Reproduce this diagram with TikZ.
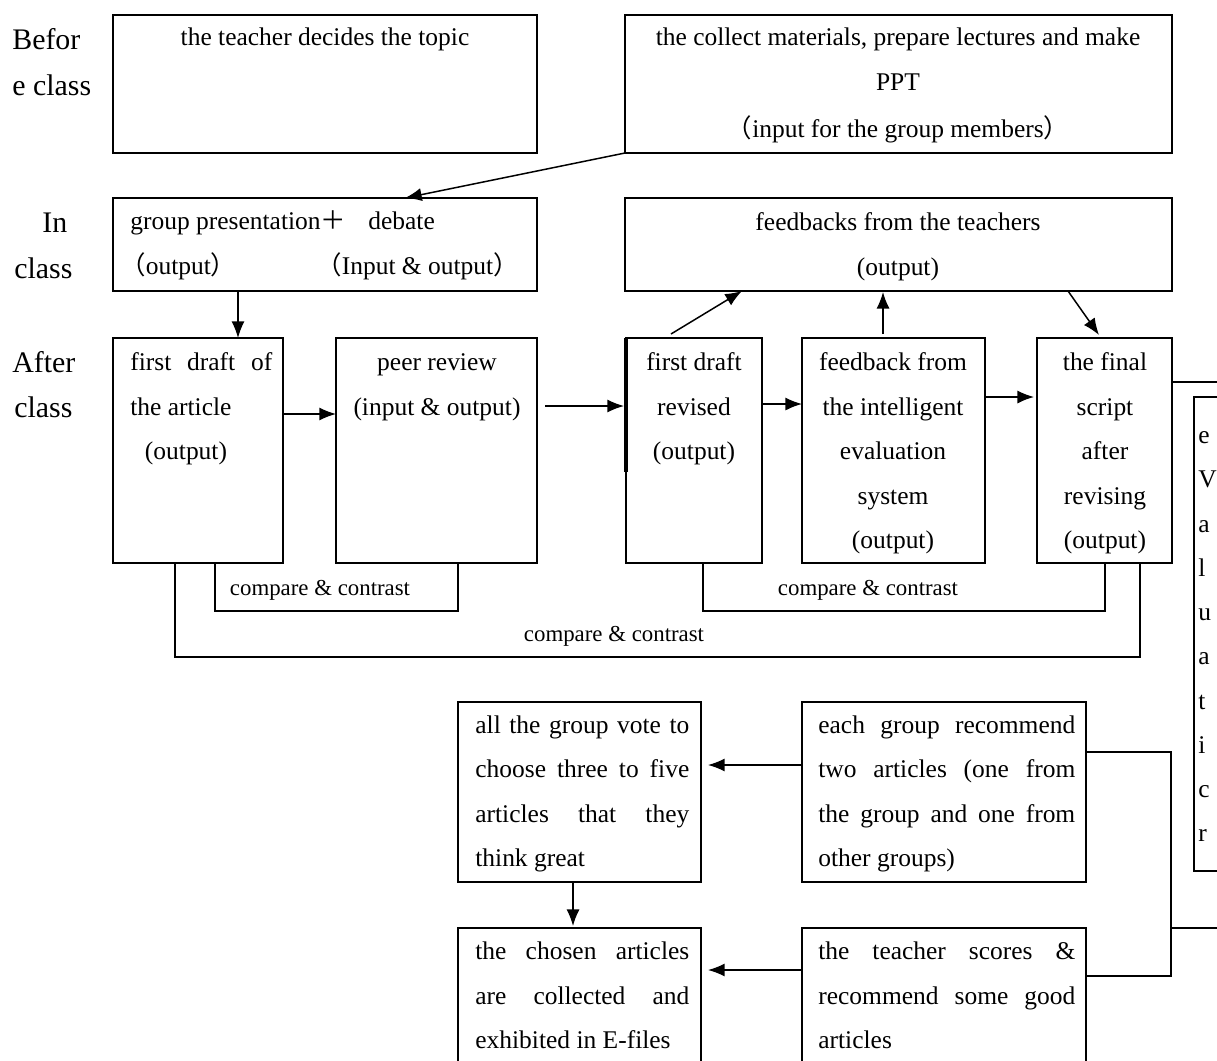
\documentclass[tikz,border=0pt]{standalone}
\usepackage{fontspec}
\setmainfont{Liberation Serif}
\newfontfamily\cjkfont{Noto Sans CJK SC}
\usetikzlibrary{arrows.meta,calc}
\newcommand\fwl{{\cjkfont （}}
\newcommand\fwr{{\cjkfont ）}}
\newcommand\fwplus{{\cjkfont ＋}}
\newcommand\mkbox[5]{\node[box, minimum width={(#4-#2)*0.02cm}, minimum height={(#5-#3)*0.02cm}] (#1) at ({(#2+#4)/2},{(#3+#5)/2}) {};}
\begin{document}
\begin{tikzpicture}[x=0.02cm,y=-0.02cm,
  box/.style={draw, line width=0.85pt, inner sep=0pt, outer sep=0pt, rectangle},
  txt/.style={inner sep=0pt, anchor=base, font=\fontsize{14.5}{17}\selectfont},
  txl/.style={txt, anchor=base west},
  side/.style={inner sep=0pt, anchor=base west, font=\fontsize{17}{20}\selectfont},
  cmp/.style={inner sep=0pt, anchor=base, font=\fontsize{13}{15}\selectfont},
  arr/.style={line width=0.85pt, -{Latex[length=9.5pt,width=7.5pt]}},
  conn/.style={line width=0.85pt},
]
\useasboundingbox (0,0) rectangle (1217,1061);
\fill[white] (0,0) rectangle (1217,1061);
\clip (0,0) rectangle (1217,1061);

% side labels
\node[side] (l1) at (12,50) {Befor};
\node[side] (l2) at (12,95) {e class};
\node[side] (l3) at (42,232) {In};
\node[side] (l4) at (14,278) {class};
\node[side] (l5) at (12,372) {After};
\node[side] (l6) at (14,417) {class};

% boxes
\mkbox{A}{113}{15}{537}{153}
\mkbox{B}{625}{15}{1172}{153}
\mkbox{C}{113}{198}{537}{291}
\mkbox{D}{625}{198}{1172}{291}
\mkbox{E}{113}{338}{283}{563}
\mkbox{F}{336}{338}{537}{563}
\mkbox{G}{626}{338}{762}{563}
\mkbox{H}{802}{338}{985}{563}
\mkbox{I}{1037}{338}{1172}{563}
\mkbox{R}{1194}{397}{1260}{871}
\mkbox{J}{458}{702}{701}{882}
\mkbox{K}{802}{702}{1086}{882}
\mkbox{L}{458}{928}{701}{1080}
\mkbox{M}{802}{928}{1086}{1080}
\draw[line width=2pt] (G.north west) -- ($(G.north west)+(0,134)$);

% texts top
\node[txt] (tA) at (325,46) {the teacher decides the topic};
\node[txt] (tB1) at (898,46) {the collect materials, prepare lectures and make};
\node[txt] (tB2) at (898,91) {PPT};
\node[txt] (tB3) at (898,137) {\fwl input for the group members\fwr};
\node[txl] (tC1) at (130,229) {group presentation\fwplus};
\node[txl] (tC2) at (368,229) {debate};
\node[txl] (tC3) at (120,274) {\fwl output\fwr};
\node[txl] (tC4) at (316,274) {\fwl Input \& output\fwr};
\node[txt] (tD1) at (898,230) {feedbacks from the teachers};
\node[txt] (tD2) at (898,275) {(output)};

% after class texts
\node[txl] (tE1) at (130,370) {\makebox[2.84cm][s]{first draft of}};
\node[txl] (tE2) at (130,415) {the article};
\node[txt] (tE3) at (186,459) {(output)};
\node[txt] (tF1) at (437,370) {peer review};
\node[txt] (tF2) at (437,415) {(input \& output)};
\node[txt] (tG1) at (694,370) {first draft};
\node[txt] (tG2) at (694,415) {revised};
\node[txt] (tG3) at (694,459) {(output)};
\node[txt] (tH1) at (893,370) {feedback from};
\node[txt] (tH2) at (893,415) {the intelligent};
\node[txt] (tH3) at (893,459) {evaluation};
\node[txt] (tH4) at (893,504) {system};
\node[txt] (tH5) at (893,548) {(output)};
\node[txt] (tI1) at (1105,370) {the final};
\node[txt] (tI2) at (1105,415) {script};
\node[txt] (tI3) at (1105,459) {after};
\node[txt] (tI4) at (1105,504) {revising};
\node[txt] (tI5) at (1105,548) {(output)};

% right cut box letters
\node[txl] (r1) at (1198,443) {e};
\node[txl] (r2) at (1198,487) {V};
\node[txl] (r3) at (1198,532) {a};
\node[txl] (r4) at (1198,576) {l};
\node[txl] (r5) at (1198,620) {u};
\node[txl] (r6) at (1198,664) {a};
\node[txl] (r7) at (1198,709) {t};
\node[txl] (r8) at (1198,753) {i};
\node[txl] (r9) at (1198,797) {c};
\node[txl] (r10) at (1198,841) {r};

% lower texts
\node[txl] (tJ1) at (475,733) {\makebox[4.28cm][s]{all the group vote to}};
\node[txl] (tJ2) at (475,777) {\makebox[4.28cm][s]{choose three to five}};
\node[txl] (tJ3) at (475,822) {\makebox[4.28cm][s]{articles that they}};
\node[txl] (tJ4) at (475,866) {think great};
\node[txl] (tK1) at (818,733) {\makebox[5.14cm][s]{each group recommend}};
\node[txl] (tK2) at (818,777) {\makebox[5.14cm][s]{two articles (one from}};
\node[txl] (tK3) at (818,822) {\makebox[5.14cm][s]{the group and one from}};
\node[txl] (tK4) at (818,866) {other groups)};
\node[txl] (tL1) at (475,959) {\makebox[4.28cm][s]{the chosen articles}};
\node[txl] (tL2) at (475,1004) {\makebox[4.28cm][s]{are collected and}};
\node[txl] (tL3) at (475,1048) {exhibited in E-files};
\node[txl] (tM1) at (818,959) {\makebox[5.14cm][s]{the teacher scores \&}};
\node[txl] (tM2) at (818,1004) {\makebox[5.14cm][s]{recommend some good}};
\node[txl] (tM3) at (818,1048) {articles};

% compare labels
\node[cmp] (c1) at (320,595) {compare \& contrast};
\node[cmp] (c2) at (868,595) {compare \& contrast};
\node[cmp] (c3) at (614,641) {compare \& contrast};

% arrows
\draw[arr] (B.south west) -- ($(C.north west)+(292,0)$);
\draw[arr] ($(C.south west)+(125,0)$) -- ($(E.north west)+(125,0)$);
\draw[arr] ($(E.north east)+(0,76)$) -- ($(F.north west)+(0,76)$);
\draw[arr] ($(F.north east)+(8,68)$) -- ($(G.north west)+(-2,68)$);
\draw[arr] ($(G.north east)+(0,66)$) -- ($(H.north west)+(0,66)$);
\draw[arr] ($(H.north east)+(0,59)$) -- ($(I.north west)+(-3,59)$);
\draw[arr] ($(G.north west)+(45,-4)$) -- ($(D.south west)+(117,0)$);
\draw[arr] ($(H.north west)+(81,-4)$) -- ($(H.north west)+(81,-46)$);
\draw[arr] ($(D.south west)+(443,0)$) -- ($(I.north west)+(62,-3)$);

% compare connectors
\draw[conn] ($(E.south west)+(102,0)$) -- ++(0,48) -| ($(F.south west)+(122,0)$);
\draw[conn] ($(G.south west)+(77,0)$) -- ++(0,48) -| ($(I.south west)+(68,0)$);
\draw[conn] ($(E.south west)+(62,0)$) -- ++(0,94) -| ($(I.south west)+(103,0)$);

% to the right edge
\coordinate (edge1) at (1230,382);
\draw[conn] ($(I.north east)+(0,44)$) -- (edge1);

% lower connectors
\draw[arr] ($(K.north west)+(0,63)$) -- ($(J.north east)+(7,63)$);
\draw[arr] ($(J.south west)+(115,0)$) -- ($(L.north west)+(115,-2)$);
\draw[arr] ($(M.north west)+(0,42)$) -- ($(L.north east)+(7,42)$);
\draw[conn] ($(K.north east)+(0,50)$) -- ++(85,0) |- ($(M.north east)+(0,48)$);
\coordinate (jn) at ($(K.north east)+(85,226)$);
\coordinate (edge2) at (1230,928);
\draw[conn] (jn) -- (edge2);
\end{tikzpicture}
\end{document}
